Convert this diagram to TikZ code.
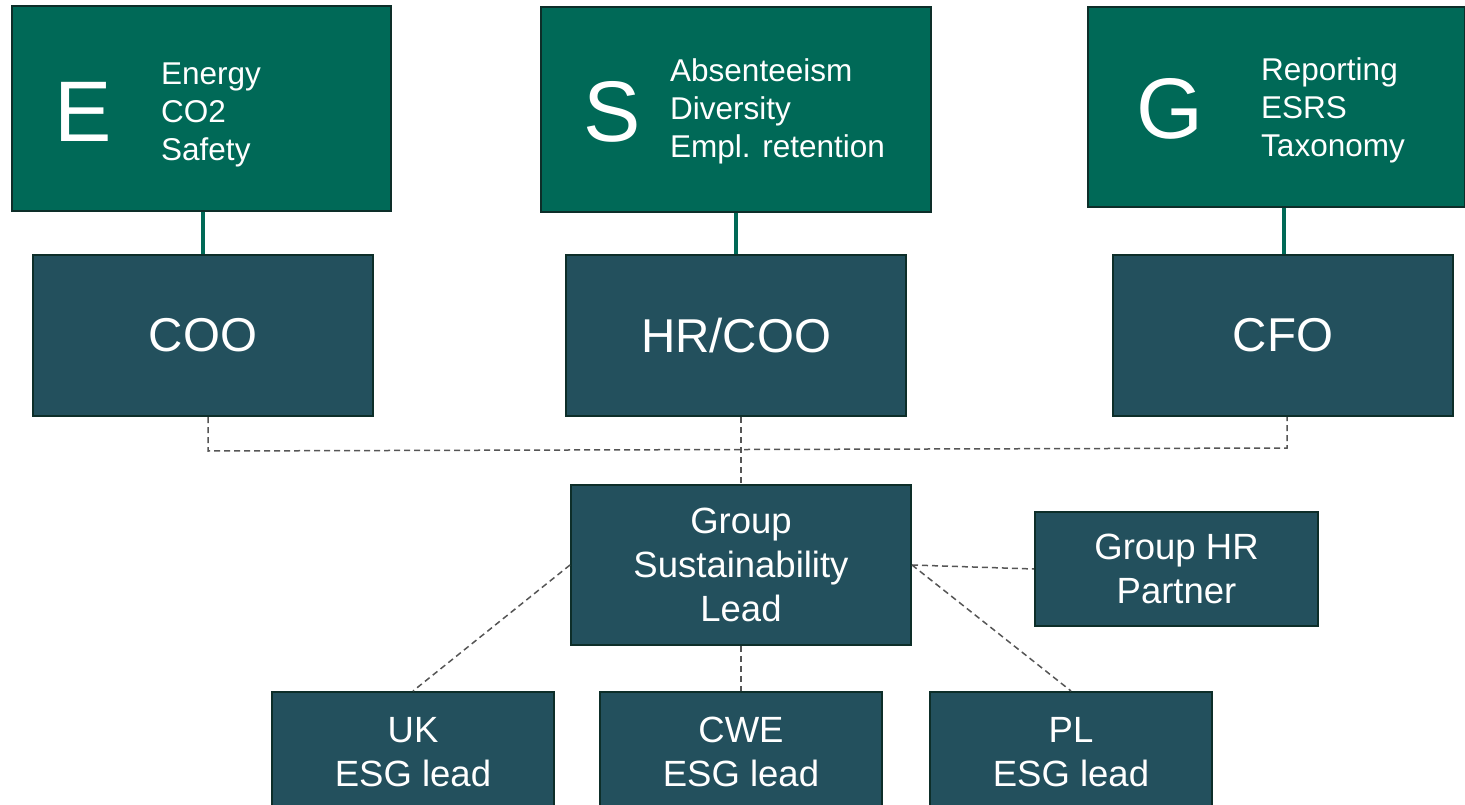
\documentclass[tikz,border=0pt]{standalone}
\usepackage{fontspec}
\setmainfont{Liberation Sans}
\definecolor{esggreen}{HTML}{006957}
\definecolor{roleteal}{HTML}{23505D}
\definecolor{boxline}{HTML}{0D2E29}
\definecolor{linkgray}{HTML}{555555}
\tikzset{
  pillar/.style={draw=boxline, fill=esggreen, line width=2pt, inner sep=0pt},
  role/.style={draw=boxline, fill=roleteal, line width=2pt, inner sep=0pt,
    text=white, align=center},
  bigletter/.style={text=white, inner sep=0pt, font=\fontsize{86}{86}\selectfont},
  topics/.style={text=white, inner sep=0pt, anchor=west, align=left,
    font=\fontsize{31.5}{38}\selectfont},
  headfont/.style={font=\fontsize{47.5}{50}\selectfont},
  namefont/.style={font=\fontsize{36.5}{44}\selectfont},
  owner/.style={draw=esggreen, line width=4pt},
  dotted link/.style={draw=linkgray, line width=1.5pt, dash pattern=on 6pt off 4pt}
}
\begin{document}
\begin{tikzpicture}[x=1pt,y=-1pt]
\useasboundingbox (0,0) rectangle (1465,805);

% ESG pillars
\node[pillar, minimum width=379pt, minimum height=205pt] (E) at (201.5,108.5) {};
\node[pillar, minimum width=390pt, minimum height=205pt] (S) at (736,109.5) {};
\node[pillar, minimum width=377pt, minimum height=200pt] (G) at (1276.5,107) {};

\node[bigletter] (Eletter) at (83,112) {E};
\node[topics] (Etopics) at (161,115) {Energy\\CO2\\Safety};
\node[bigletter] (Sletter) at (612,112) {S};
\node[topics] (Stopics) at (670,111) {Absenteeism\\Diversity\\Empl. retention};
\node[bigletter] (Gletter) at (1170,109) {G};
\node[topics] (Gtopics) at (1261,110) {Reporting\\ESRS\\Taxonomy};

% Owners
\node[role, headfont, minimum width=340pt, minimum height=161pt] (COO) at (203,335.5) {COO};
\node[role, headfont, minimum width=340pt, minimum height=161pt] (HR) at (736,335.5) {HR/COO};
\node[role, headfont, minimum width=340pt, minimum height=161pt] (CFO) at (1283,335.5) {CFO};

% Sustainability organisation
\node[role, namefont, minimum width=340pt, minimum height=160pt] (GSL) at (741,565) {Group\\Sustainability\\Lead};
\node[role, namefont, minimum width=283pt, minimum height=114pt] (GHR) at (1176.5,569) {Group HR\\Partner};
\node[role, namefont, minimum width=282pt, minimum height=120pt] (UK) at (413,752) {UK\\ESG lead};
\node[role, namefont, minimum width=282pt, minimum height=120pt] (CWE) at (741,752) {CWE\\ESG lead};
\node[role, namefont, minimum width=282pt, minimum height=120pt] (PL) at (1071,752) {PL\\ESG lead};

% Pillar ownership
\draw[owner] (COO.north) -- (COO.north |- E.south);
\draw[owner] (HR.north) -- (HR.north |- S.south);
\draw[owner] ([xshift=1pt]CFO.north) -- ([xshift=1pt]CFO.north |- G.south);

% Reporting lines
\draw[dotted link] ([xshift=5pt]COO.south) -- ([xshift=5pt]COO.south |- 0,451)
  -- ([xshift=4pt]CFO.south |- 0,448) -- ([xshift=4pt]CFO.south);
\draw[dotted link] (HR.south -| GSL.north) -- (GSL.north);
\draw[dotted link] (GSL.west) -- (UK.north);
\draw[dotted link] (GSL.south) -- (CWE.north);
\draw[dotted link] (GSL.east) -- (PL.north);
\draw[dotted link] (GSL.east) -- (GHR.west);
\end{tikzpicture}
\end{document}
